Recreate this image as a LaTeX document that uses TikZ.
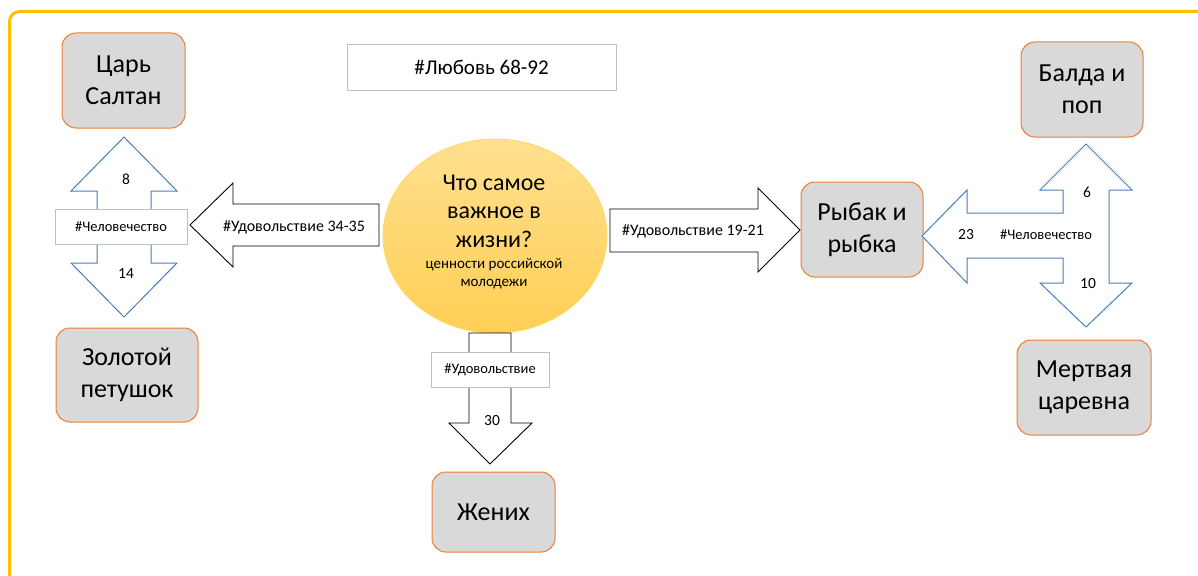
\documentclass[tikz,border=0pt]{standalone}
\usepackage{fontspec}
\setmainfont{Carlito}
\usetikzlibrary{shapes.geometric}
\definecolor{boxor}{HTML}{ED7D31}
\definecolor{boxfill}{HTML}{D9D9D9}
\definecolor{framecol}{HTML}{FFC000}
\definecolor{blu}{HTML}{4A7EBB}
\definecolor{lblgray}{HTML}{BFBFBF}
\definecolor{coretop}{HTML}{FFE08F}
\definecolor{corebot}{HTML}{FFCF55}
\definecolor{coreline}{HTML}{FFD766}
\tikzset{
  tale/.style={draw=boxor, fill=boxfill, rounded corners=14pt, line width=1pt,
    align=center, inner sep=0pt, font=\fontsize{26}{32}\selectfont},
  tagbox/.style={draw=lblgray, fill=white, line width=0.9pt, inner sep=0pt,
    font=\fontsize{14.5}{16}\selectfont},
  blockarrow/.style={draw=black, fill=white, line width=0.9pt, line join=miter},
  bluearrow/.style={draw=blu, fill=white, line width=1pt, line join=miter},
  biglbl/.style={inner sep=0pt, font=\fontsize{16}{18}\selectfont},
  numlbl/.style={inner sep=0pt, font=\fontsize{15.5}{17}\selectfont},
  smalllbl/.style={inner sep=0pt, font=\fontsize{14.5}{16}\selectfont},
}
\begin{document}
\begin{tikzpicture}[x=1pt, y=-1pt]
\useasboundingbox (0,0) rectangle (1198,575);
\clip (0,0) rectangle (1198,575);
\fill[white] (0,0) rectangle (1198,575);
% frame
\draw[framecol, line width=3pt, rounded corners=10pt] (9.5,11.5) rectangle (1240,620);

% title box
\node[draw=lblgray, fill=white, line width=0.9pt, minimum width=269pt, minimum height=46pt,
  inner sep=0pt, font=\fontsize{21}{24}\selectfont] (love) at (481.5,67) {\#Любовь 68-92};

% tale boxes
\node[tale, minimum width=123pt, minimum height=95pt] (saltan) at (123.5,80.5) {Царь\\Салтан};
\node[tale, minimum width=142pt, minimum height=94pt] (petushok) at (127,375) {Золотой\\петушок};
\node[tale, minimum width=123pt, minimum height=80pt] (zhenikh) at (493.5,512) {Жених};
\node[tale, minimum width=122pt, minimum height=95pt] (rybak) at (862,229.5) {Рыбак и\\рыбка};
\node[tale, minimum width=122pt, minimum height=95pt] (balda) at (1082,89.5) {Балда и\\поп};
\node[tale, minimum width=134pt, minimum height=95pt] (tsarevna) at (1084,387.5) {Мертвая\\царевна};

% central ellipse
\node[ellipse, draw=coreline, line width=0.8pt, top color=coretop, bottom color=corebot,
  minimum width=224pt, minimum height=194pt, inner sep=0pt] (core) at (495,236) {};
\node[inner sep=0pt, align=center, font=\fontsize{24}{28.5}\selectfont] (q) at (494,211)
  {Что самое\\важное в\\жизни?};
\node[inner sep=0pt, align=center, font=\fontsize{15}{18}\selectfont] (sub) at (494,274)
  {ценности российской\\молодежи};

% left double arrow
\draw[bluearrow] (124,137) -- (177,191) -- (151,191) -- (151,263) -- (177,263) -- (124,317)
  -- (71,263) -- (97,263) -- (97,191) -- (71,191) -- cycle;
\node[tagbox, minimum width=132pt, minimum height=35pt] (humL) at (121,226.5) {\#Человечество};
\node[numlbl] (n8) at (126,179) {8};
\node[numlbl] (n14) at (126,274) {14};

% left block arrow
\draw[blockarrow] (190,225) -- (233,183) -- (233,204) -- (379,204) -- (379,246)
  -- (233,246) -- (233,267) -- cycle;
\node[biglbl] (plL) at (294,227) {\#Удовольствие 34-35};

% right block arrow
\draw[blockarrow] (610,209) -- (758,209) -- (758,188) -- (800,230) -- (758,272)
  -- (758,252) -- (610,252) -- cycle;
\node[biglbl] (plR) at (693,231) {\#Удовольствие 19-21};

% bottom arrow
\draw[blockarrow] (469,333) -- (511,333) -- (511,423) -- (532,423) -- (490,464)
  -- (449,423) -- (469,423) -- cycle;
\node[tagbox, minimum width=118pt, minimum height=35pt] (plD) at (490,369.5) {\#Удовольствие};
\node[numlbl] (n30) at (492,421) {30};

% right triple arrow
\draw[bluearrow] (922,236) -- (967,190) -- (967,213) -- (1063,213) -- (1063,190)
  -- (1040,190) -- (1086,144) -- (1132,190) -- (1109,190) -- (1109,283) -- (1132,283)
  -- (1086,327) -- (1040,283) -- (1063,283) -- (1063,258) -- (967,258) -- (967,283) -- cycle;
\node[numlbl] (n6) at (1087,192) {6};
\node[numlbl] (n23) at (966,235) {23};
\node[smalllbl] (humR) at (1046,235) {\#Человечество};
\node[numlbl] (n10) at (1088,284) {10};
\end{tikzpicture}
\end{document}
